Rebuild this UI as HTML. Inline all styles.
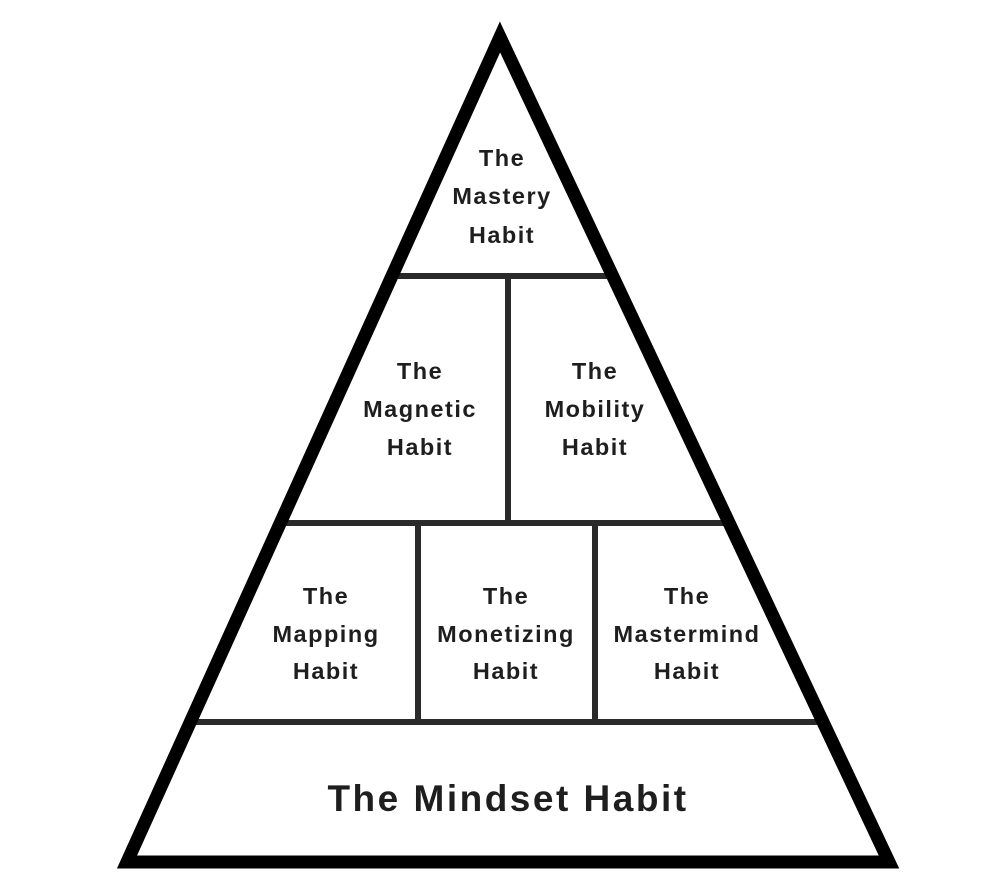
<!DOCTYPE html>
<html><head><meta charset="utf-8"><style>
html,body{margin:0;padding:0;background:#fff;}
svg{display:block;}
text{font-family:"Liberation Sans",sans-serif;font-weight:bold;fill:#1e1e1e;text-anchor:middle;letter-spacing:1.5px;}
</style></head><body>
<svg width="984" height="894" viewBox="0 0 984 894" xmlns="http://www.w3.org/2000/svg">
<rect width="984" height="894" fill="#fff"/>
<g stroke="#2a2a2a" stroke-width="6">
<line x1="388" y1="276" x2="615" y2="276"/>
<line x1="278" y1="523" x2="730" y2="523"/>
<line x1="188" y1="722" x2="823" y2="722"/>
<line x1="508" y1="276" x2="508" y2="523"/>
<line x1="418" y1="523" x2="418" y2="722"/>
<line x1="595" y1="523" x2="595" y2="722"/>
</g>
<polygon points="500,37 127,862 889,862" fill="none" stroke="#000" stroke-width="13" stroke-linejoin="miter" stroke-miterlimit="10"/>
<g font-size="23.5">
<text x="502" y="166">The</text>
<text x="502" y="204">Mastery</text>
<text x="502" y="243">Habit</text>
<text x="420" y="379">The</text>
<text x="420" y="417">Magnetic</text>
<text x="420" y="455">Habit</text>
<text x="595" y="379">The</text>
<text x="595" y="417">Mobility</text>
<text x="595" y="455">Habit</text>
<text x="326" y="604">The</text>
<text x="326" y="642">Mapping</text>
<text x="326" y="679">Habit</text>
<text x="506" y="604">The</text>
<text x="506" y="642">Monetizing</text>
<text x="506" y="679">Habit</text>
<text x="687" y="604">The</text>
<text x="687" y="642">Mastermind</text>
<text x="687" y="679">Habit</text>
</g>
<text x="508" y="811" font-size="37" style="letter-spacing:2.5px">The Mindset Habit</text>
</svg>
</body></html>
